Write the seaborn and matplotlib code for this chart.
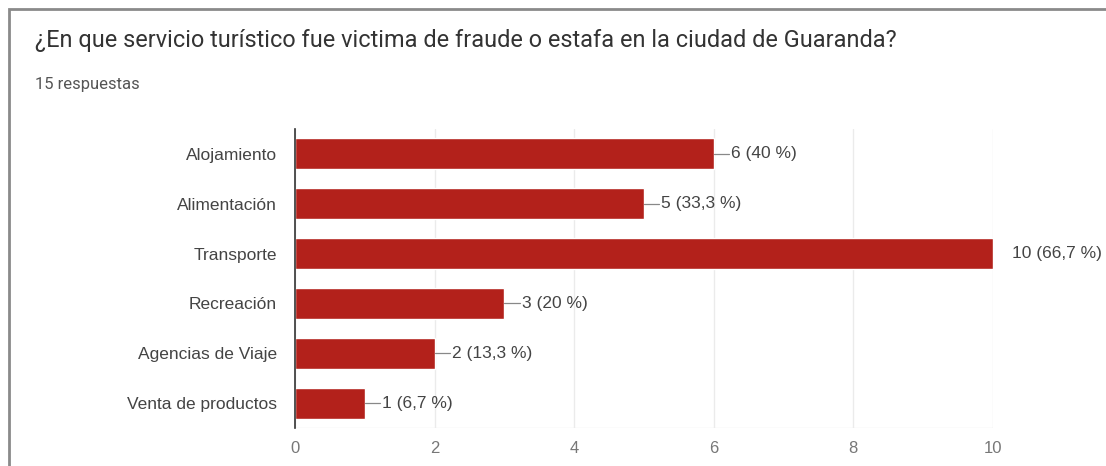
import matplotlib
matplotlib.use("Agg")
import matplotlib.pyplot as plt
import seaborn as sns
import pandas as pd
from matplotlib.patches import Rectangle


TITLE = "¿En que servicio turístico fue victima de fraude o estafa en la ciudad de Guaranda?"
SUBTITLE = "15 respuestas"

categories = [
    "Alojamiento",
    "Alimentación",
    "Transporte",
    "Recreación",
    "Agencias de Viaje",
    "Venta de productos",
]
counts = [6, 5, 10, 3, 2, 1]
labels = ["6 (40 %)", "5 (33,3 %)", "10 (66,7 %)", "3 (20 %)", "2 (13,3 %)", "1 (6,7 %)"]
x_ticks = [0, 2, 4, 6, 8, 10]

BAR_COLOR = "#b3211b"
TEXT_COLOR = "#444444"
CHART_FONT = ["Liberation Sans", "DejaVu Sans"]


def draw():

    sns.set_style("white")
    plt.rcParams["font.family"] = ["Roboto", "DejaVu Sans"]

    df = pd.DataFrame({"servicio": categories, "n": counts})

    fig = plt.figure(figsize=(11.06, 4.66), dpi=100)
    ax = fig.add_axes([0.2667, 0.0815, 0.6311, 0.6417])

    sns.barplot(
        data=df,
        x="n",
        y="servicio",
        orient="h",
        color=BAR_COLOR,
        saturation=1,
        width=0.62,
        ax=ax
    )

    ax.set_xlim(0, 10)
    ax.set_ylim(5.5, -0.5)
    ax.set_xticks(x_ticks)
    ax.set_xticklabels([str(t) for t in x_ticks], color="#777777",
                       fontsize=12, family=CHART_FONT)
    for t in ax.get_yticklabels():
        t.set_family(CHART_FONT)
    ax.tick_params(axis="y", labelsize=12.5, labelcolor=TEXT_COLOR, length=0, pad=13)
    ax.tick_params(axis="x", length=0, pad=9)
    ax.set_xlabel("")
    ax.set_ylabel("")

    ax.grid(axis="x", color="#ebebeb", linewidth=1)
    ax.set_axisbelow(True)
    for side in ["top", "right", "bottom"]:
        ax.spines[side].set_visible(False)
    ax.spines["left"].set_color("#333333")
    ax.spines["left"].set_linewidth(1.2)
    ax.axhline(5.5, color="#ebebeb", linewidth=1, zorder=0)

    top = max(counts)
    for i, (v, lab) in enumerate(zip(counts, labels)):
        if v == top:
            ax.text(v + 0.27, i, lab, va="center", ha="left", family=CHART_FONT,
                    fontsize=12.5, color=TEXT_COLOR, clip_on=False)
        else:
            ax.plot([v, v + 0.22], [i, i], color="#888888", linewidth=0.9)
            ax.text(v + 0.25, i, lab, va="center", ha="left", family=CHART_FONT,
                    fontsize=12.5, color=TEXT_COLOR)

    fig.text(35 / 1106, 1 - 40 / 466, TITLE, fontsize=16.9,
             color="#333333", va="center", ha="left")
    fig.text(35 / 1106, 1 - 84 / 466, SUBTITLE, fontsize=12,
             color="#555555", va="center", ha="left")

    fig.patches.append(Rectangle(
        (9 / 1106, -0.1), 1.2, 1 - 9 / 466 + 0.1,
        transform=fig.transFigure, fill=False,
        edgecolor="#8a8a8a", linewidth=2
    ))

    fig.savefig("out.png", dpi=100)


if __name__ == "__main__":
    draw()
